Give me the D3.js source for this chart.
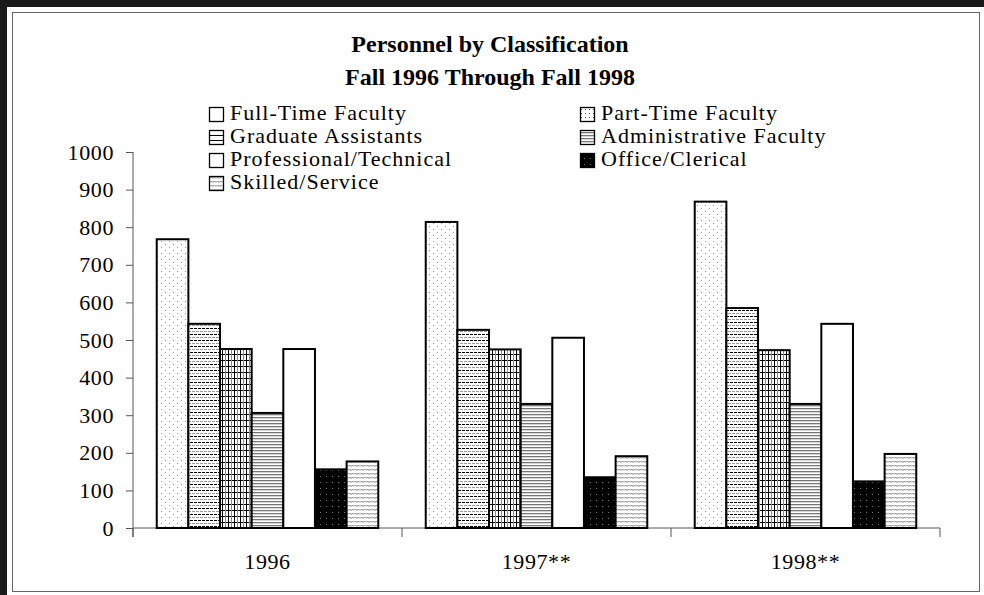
<!DOCTYPE html>
<html><head><meta charset="utf-8">
<script src="https://cdn.jsdelivr.net/npm/d3@7"></script>
<style>body{margin:0;background:#fff}svg{display:block}text{font-family:"Liberation Serif","Times New Roman",serif;fill:#000}</style>
</head><body><svg id="c" width="984" height="595"></svg>
<script>
const categories=["1996","1997**","1998**"];
const seriesNames=["Full-Time Faculty","Part-Time Faculty","Graduate Assistants","Administrative Faculty","Professional/Technical","Office/Clerical","Skilled/Service"];
const fullTime=[768,814,868];
const partTime=[543,527,585];
const gradAsst=[476,475,473];
const adminFac=[306,330,330];
const profTech=[476,506,543];
const officeCler=[156,135,124];
const skilledServ=[177,191,197];
const yTicks=[0,100,200,300,400,500,600,700,800,900,1000];
const titleLines=["Personnel by Classification","Fall 1996 Through Fall 1998"];

const seriesValues=[fullTime,partTime,gradAsst,adminFac,profTech,officeCler,skilledServ];
const barFill=["url(#pDots)","url(#pDash)","url(#pGrid)","url(#pHoriz)","#fff","url(#pBlack)","url(#pWave)"];
const legFill=["#fff","url(#lDots)","url(#lGA)","url(#pHoriz)","#fff","url(#pBlack)","url(#pWave)"];

const svg=d3.select("#c");
const defs=svg.append("defs");
function pat(id,w,h,draw){const p=defs.append("pattern").attr("id",id).attr("patternUnits","userSpaceOnUse").attr("width",w).attr("height",h);draw(p);}
pat("pDots",8,6,p=>{p.append("rect").attr("width",8).attr("height",6).attr("fill","#fff");
  p.append("rect").attr("x",1).attr("y",1).attr("width",1).attr("height",1).attr("fill","#999");
  p.append("rect").attr("x",5).attr("y",4).attr("width",1).attr("height",1).attr("fill","#999");});
pat("pDash",8,6,p=>{p.append("rect").attr("width",8).attr("height",6).attr("fill","#fff");
  p.append("rect").attr("x",0).attr("y",1).attr("width",3).attr("height",1).attr("fill","#999");
  p.append("rect").attr("x",4).attr("y",1).attr("width",3).attr("height",1).attr("fill","#999");
  p.append("rect").attr("x",2).attr("y",4).attr("width",3).attr("height",1).attr("fill","#000");
  p.append("rect").attr("x",6).attr("y",4).attr("width",2).attr("height",1).attr("fill","#000");
  p.append("rect").attr("x",0).attr("y",4).attr("width",1).attr("height",1).attr("fill","#000");});
pat("pGrid",6,6,p=>{p.append("rect").attr("width",6).attr("height",6).attr("fill","#fff");
  p.append("rect").attr("x",0).attr("y",0).attr("width",6).attr("height",1).attr("fill","#000");
  p.append("rect").attr("x",0).attr("y",0).attr("width",1).attr("height",6).attr("fill","#000");
  p.append("rect").attr("x",3).attr("y",0).attr("width",1).attr("height",6).attr("fill","#888");});
pat("pHoriz",4,3,p=>{p.append("rect").attr("width",4).attr("height",3).attr("fill","#fff");
  p.append("rect").attr("x",0).attr("y",0).attr("width",4).attr("height",1.3).attr("fill","#777");});
pat("pBlack",6,6,p=>{p.append("rect").attr("width",6).attr("height",6).attr("fill","#000");
  p.append("rect").attr("x",2).attr("y",2).attr("width",1).attr("height",1).attr("fill","#777");});
pat("pWave",6,4,p=>{p.append("rect").attr("width",6).attr("height",4).attr("fill","#fff");
  p.append("path").attr("d","M0,2.5 L1.5,1 L3,2.5 L4.5,1 L6,2.5").attr("fill","none").attr("stroke","#777").attr("stroke-width",1);});
pat("lDots",4,4,p=>{p.append("rect").attr("width",4).attr("height",4).attr("fill","#fff");
  p.append("rect").attr("x",1).attr("y",1).attr("width",1).attr("height",1).attr("fill","#444");});
pat("lGA",14,5,p=>{p.append("rect").attr("width",14).attr("height",5).attr("fill","#fff");
  p.append("rect").attr("x",0).attr("y",0).attr("width",14).attr("height",1).attr("fill","#000");});

// frame
svg.append("rect").attr("x",0).attr("y",0).attr("width",984).attr("height",7).attr("fill","#1a1a1a");
svg.append("rect").attr("x",0).attr("y",0).attr("width",7).attr("height",595).attr("fill","#1a1a1a");
svg.append("rect").attr("x",12.5).attr("y",12.5).attr("width",967).attr("height",579).attr("fill","none").attr("stroke","#666").attr("stroke-width",1);

// title
svg.append("g").selectAll("text").data(titleLines).join("text")
  .attr("x",490).attr("y",(d,i)=>52+i*33).attr("text-anchor","middle")
  .attr("font-size",24).attr("font-weight","bold").text(d=>d);

// scales
const x=d3.scaleBand().domain(categories).range([133,940]).paddingInner(0).paddingOuter(0);
const xs=d3.scaleBand().domain(seriesNames).range([0,x.bandwidth()]).paddingInner(0).paddingOuter(0.75);
const y=d3.scaleLinear().domain([0,1000]).range([528,152]);

// y axis
const ya=svg.append("g").attr("transform","translate(133,0)")
  .call(d3.axisLeft(y).tickValues(yTicks).tickSize(7).tickPadding(12).tickFormat(d3.format("d")));
ya.select(".domain").attr("stroke","#555").attr("d","M0,152V537");
ya.selectAll(".tick line").attr("stroke","#555");
ya.selectAll(".tick text").attr("font-size",22).attr("font-family","Liberation Serif").attr("letter-spacing","0.6px").attr("fill","#000");

// x axis
const xa=svg.append("g").attr("transform","translate(0,528)")
  .call(d3.axisBottom(x).tickSize(0).tickPadding(25));
xa.select(".domain").attr("stroke","#555").attr("d","M133,0H940");
xa.selectAll(".tick text").attr("font-size",22).attr("font-family","Liberation Serif").attr("letter-spacing","0.6px").attr("fill","#000");
svg.append("g").selectAll("line").data(categories.map(c=>x(c)).concat([x(categories[categories.length-1])+x.bandwidth()]))
  .join("line").attr("x1",d=>d).attr("x2",d=>d).attr("y1",528).attr("y2",537).attr("stroke","#555");

// bars
const g=svg.append("g");
seriesNames.forEach((s,si)=>{
  g.append("g").selectAll("rect").data(categories.map((c,ci)=>({c,v:seriesValues[si][ci]}))).join("rect")
    .attr("x",d=>x(d.c)+xs(s)).attr("y",d=>y(d.v)).attr("width",xs.bandwidth()).attr("height",d=>y(0)-y(d.v))
    .attr("fill",barFill[si]).attr("stroke","#000").attr("stroke-width",2);
});

// legend
const leg=svg.append("g");
const lx=[209,580], ly0=107, ldy=23;
seriesNames.forEach((s,i)=>{
  const cx=lx[i%2], cy=ly0+Math.floor(i/2)*ldy;
  leg.append("rect").attr("x",cx+0.5).attr("y",cy+0.5).attr("width",14).attr("height",14)
    .attr("fill",legFill[i]).attr("stroke","#000").attr("stroke-width",1.3);
  leg.append("text").attr("x",cx+21).attr("y",cy+13).attr("font-size",22).attr("letter-spacing","1px").text(s);
});
</script></body></html>
